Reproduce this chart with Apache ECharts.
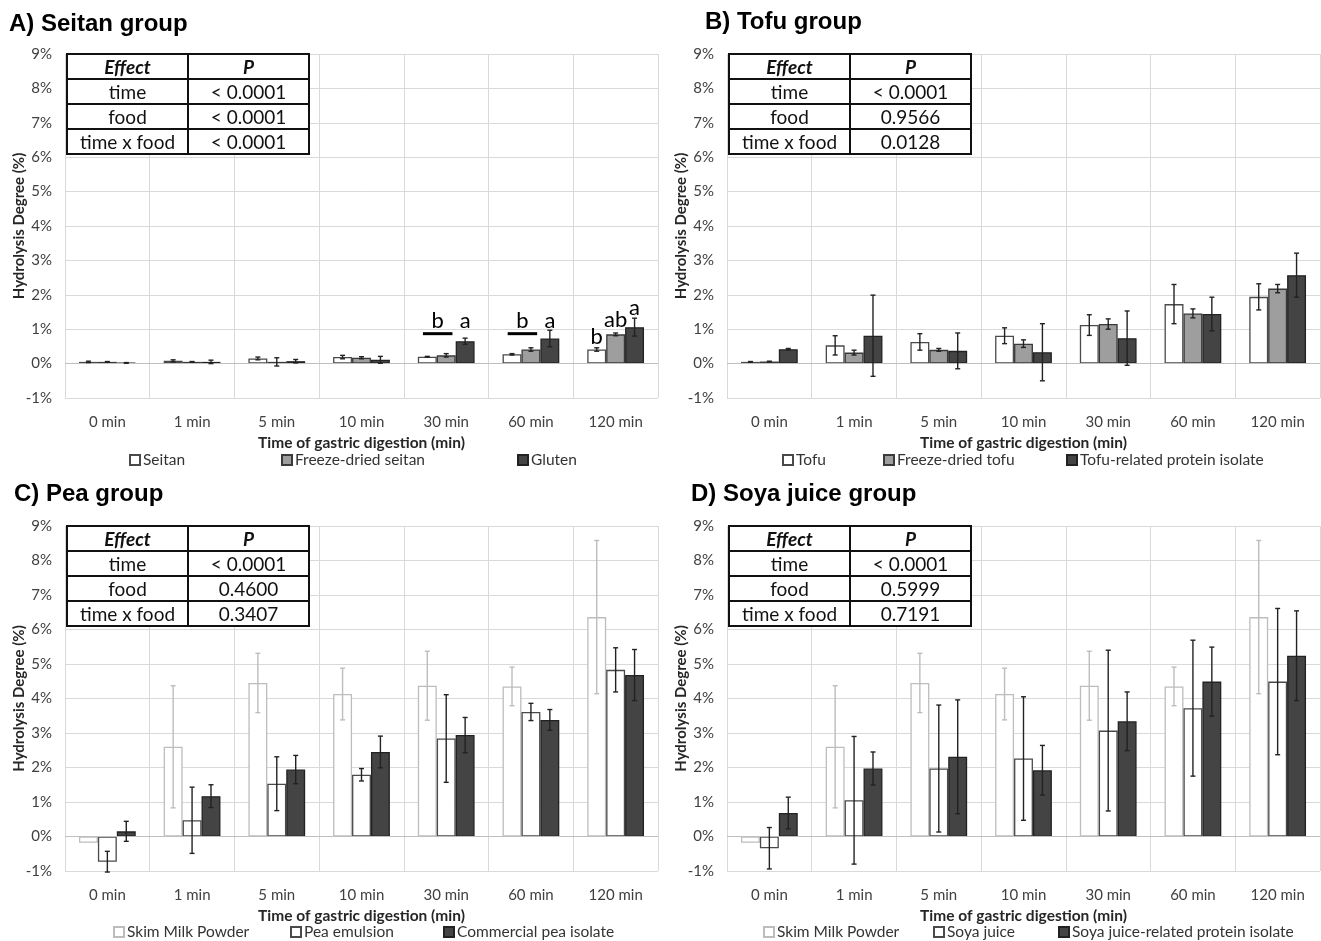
<!DOCTYPE html>
<html><head><meta charset="utf-8">
<script src="https://cdn.jsdelivr.net/npm/echarts@6/dist/echarts.min.js"></script>
<style>html,body{margin:0;padding:0;background:#fff}#c{width:1321px;height:941px}</style>
</head><body><div id="c"></div>
<script>
const categories = ['0 min','1 min','5 min','10 min','30 min','60 min','120 min'];

// A) Seitan group
const seitan = [0.05,0.08,0.15,0.19,0.20,0.27,0.41];
const seitanErr = [0.02,0.03,0.04,0.05,0.01,0.02,0.05];
const freezeDriedSeitan = [0.05,0.05,0.05,0.17,0.24,0.41,0.85];
const freezeDriedSeitanErr = [0.01,0.01,0.12,0.03,0.05,0.05,0.04];
const gluten = [0.02,0.05,0.07,0.11,0.65,0.73,1.06];
const glutenErr = [0.01,0.05,0.05,0.10,0.09,0.24,0.26];

// B) Tofu group
const tofu = [0.05,0.53,0.63,0.81,1.12,1.73,1.94];
const tofuErr = [0.01,0.28,0.24,0.23,0.30,0.57,0.38];
const freezeDriedTofu = [0.06,0.32,0.40,0.58,1.15,1.46,2.18];
const freezeDriedTofuErr = [0.01,0.07,0.04,0.11,0.15,0.13,0.12];
const tofuIsolate = [0.42,0.81,0.37,0.33,0.74,1.44,2.57];
const tofuIsolateErr = [0.02,1.18,0.52,0.83,0.79,0.49,0.64];

// C) Pea group & D) Soya juice group
const skimMilk = [-0.18,2.60,4.45,4.13,4.37,4.35,6.36];
const skimMilkErr = [0,1.77,0.86,0.75,1.00,0.56,2.22];
const peaEmulsion = [-0.73,0.47,1.53,1.79,2.84,3.61,4.83];
const peaEmulsionErr = [0.30,0.96,0.78,0.18,1.27,0.25,0.64];
const peaIsolate = [0.15,1.17,1.94,2.45,2.94,3.38,4.68];
const peaIsolateErr = [0.29,0.33,0.41,0.46,0.51,0.30,0.74];
const soyaJuice = [-0.34,1.05,1.97,2.26,3.07,3.72,4.49];
const soyaJuiceErr = [0.60,1.85,1.84,1.79,2.33,1.97,2.12];
const soyaIsolate = [0.68,1.97,2.31,1.92,3.34,4.49,5.24];
const soyaIsolateErr = [0.46,0.48,1.65,0.72,0.85,1.00,1.30];

// significance annotations for panel A: [category, bar slot, value, text]
const sigLetters = [[4,-0.45,1.25,'b'],[4,1,1.25,'a'],[5,-0.45,1.25,'b'],[5,1,1.25,'a'],[6,-1,0.79,'b'],[6,0,1.26,'ab'],[6,1,1.63,'a']];
// [category, from slot, to slot, value]
const sigBars = [[4,-1.23,0.33,0.87],[5,-1.23,0.33,0.87]];

const tableA = [['Effect','P'],['time','< 0.0001'],['food','< 0.0001'],['time x food','< 0.0001']];
const tableB = [['Effect','P'],['time','< 0.0001'],['food','0.9566'],['time x food','0.0128']];
const tableC = [['Effect','P'],['time','< 0.0001'],['food','0.4600'],['time x food','0.3407']];
const tableD = [['Effect','P'],['time','< 0.0001'],['food','0.5999'],['time x food','0.7191']];

const FONT = 'Lato';
const GAP = 0.33;
const sWhite = {fill:'#ffffff', border:'#4a4a4a', err:'#222'};
const sGrey = {fill:'#9e9e9e', border:'#3a3a3a', err:'#222'};
const sDark = {fill:'#444444', border:'#222222', err:'#222'};
const sSkim = {fill:'#ffffff', border:'#bdbdbd', err:'#bdbdbd'};

const panels = [
  {title:'A) Seitan group', tl:[9,12], grid:{left:65,top:54,width:593,height:344},
   names:['Seitan','Freeze-dried seitan','Gluten'], vals:[seitan,freezeDriedSeitan,gluten],
   errs:[seitanErr,freezeDriedSeitanErr,glutenErr], styles:[sWhite,sGrey,sDark], table:tableA,
   legend:[129,281,517], legendTop:452, sig:true},
  {title:'B) Tofu group', tl:[705,10], grid:{left:727,top:54,width:593,height:344},
   names:['Tofu','Freeze-dried tofu','Tofu-related protein isolate'], vals:[tofu,freezeDriedTofu,tofuIsolate],
   errs:[tofuErr,freezeDriedTofuErr,tofuIsolateErr], styles:[sWhite,sGrey,sDark], table:tableB,
   legend:[782,883,1066], legendTop:452},
  {title:'C) Pea group', tl:[14,482], grid:{left:65,top:526,width:593,height:345},
   names:['Skim Milk Powder','Pea emulsion','Commercial pea isolate'], vals:[skimMilk,peaEmulsion,peaIsolate],
   errs:[skimMilkErr,peaEmulsionErr,peaIsolateErr], styles:[sSkim,sWhite,sDark], table:tableC,
   legend:[113,290,443], legendTop:924},
  {title:'D) Soya juice group', tl:[691,482], grid:{left:727,top:526,width:593,height:345},
   names:['Skim Milk Powder ','Soya juice','Soya juice-related protein isolate'], vals:[skimMilk,soyaJuice,soyaIsolate],
   errs:[skimMilkErr,soyaJuiceErr,soyaIsolateErr], styles:[sSkim,sWhite,sDark], table:tableD,
   legend:[763,933,1058], legendTop:924}
];

function errRender(slot, color){
  return function(params, api){
    const cat = api.value(0), v = api.value(1), e = api.value(2);
    if (!e) return null;
    const bw = api.size([1,0])[0];
    const barW = bw*(1-GAP)/3;
    const off = (slot-1)*barW;
    const t = api.coord([cat, v+e]), b = api.coord([cat, v-e]);
    const x = t[0]+off, cap = 2.5;
    const st = {stroke: color, lineWidth: 1.4};
    return {type:'group', children:[
      {type:'line', shape:{x1:x,y1:t[1],x2:x,y2:b[1]}, style:st},
      {type:'line', shape:{x1:x-cap,y1:t[1],x2:x+cap,y2:t[1]}, style:st},
      {type:'line', shape:{x1:x-cap,y1:b[1],x2:x+cap,y2:b[1]}, style:st}
    ]};
  };
}

const option = {animation:false, backgroundColor:'#fff', title:[], grid:[], xAxis:[], yAxis:[], series:[], legend:[], graphic:[]};

panels.forEach((p, pi) => {
  option.title.push({text:p.title, left:p.tl[0], top:p.tl[1], padding:0,
    textStyle:{fontFamily:'Liberation Sans', fontWeight:'bold', fontSize:24, color:'#000'}});
  option.grid.push(p.grid);
  option.xAxis.push({type:'category', gridIndex:pi, data:categories, boundaryGap:true,
    axisLine:{show:false, onZero:false}, axisTick:{show:false},
    axisLabel:{fontFamily:FONT, fontSize:15, color:'#404040', margin:17},
    splitLine:{show:true, lineStyle:{color:'#d9d9d9', width:1}},
    name:'Time of gastric digestion (min)', nameLocation:'middle', nameGap:37,
    nameTextStyle:{fontFamily:FONT, fontWeight:'bold', fontSize:15.5, color:'#262626'}});
  option.yAxis.push({type:'value', gridIndex:pi, min:-1, max:9, interval:1,
    axisLine:{show:false}, axisTick:{show:false},
    axisLabel:{formatter:'{value}%', fontFamily:FONT, fontSize:15, color:'#404040', margin:13},
    splitLine:{lineStyle:{color:'#d9d9d9', width:1}},
    name:'Hydrolysis Degree (%)', nameLocation:'middle', nameGap:38, nameRotate:90, nameMoveOverlap:false,
    nameTextStyle:{fontFamily:FONT, fontWeight:'bold', fontSize:15, color:'#262626'}});
  p.names.forEach((nm, si) => {
    const s = p.styles[si];
    const bar = {type:'bar', name:nm, xAxisIndex:pi, yAxisIndex:pi, data:p.vals[si],
      barGap:'0%', barCategoryGap:(GAP*100)+'%',
      itemStyle:{color:s.fill, borderColor:s.border, borderWidth:1.3}};
    if (si === 0) bar.markLine = {silent:true, symbol:'none', label:{show:false},
      lineStyle:{color:'#bfbfbf', width:1, type:'solid'}, data:[{yAxis:0}]};
    option.series.push(bar);
  });
  p.names.forEach((nm, si) => {
    option.series.push({type:'custom', xAxisIndex:pi, yAxisIndex:pi, z:5, silent:true,
      renderItem: errRender(si, p.styles[si].err),
      data: p.vals[si].map((v,i) => [i, v, p.errs[si][i]]), encode:{x:0, y:1}});
    option.legend.push({data:[nm], left:p.legend[si], top:p.legendTop, padding:0, icon:'rect',
      itemWidth:10, itemHeight:10, selectedMode:false,
      textStyle:{fontFamily:FONT, fontSize:15.5, color:'#333', padding:[0,0,0,-2]}});
  });
  if (p.sig) {
    option.series.push({type:'custom', xAxisIndex:pi, yAxisIndex:pi, z:6, silent:true,
      data: sigLetters.map(d => [d[0], d[2]]), encode:{x:0,y:1},
      renderItem:(params, api) => {
        const d = sigLetters[params.dataIndex];
        const bw = api.size([1,0])[0], barW = bw*(1-GAP)/3;
        const c = api.coord([d[0], d[2]]);
        return {type:'text', style:{x:c[0]+d[1]*barW, y:c[1], text:d[3], align:'center', verticalAlign:'middle',
          font:'22px ' + FONT, fill:'#000'}};
      }});
    option.series.push({type:'custom', xAxisIndex:pi, yAxisIndex:pi, z:6, silent:true,
      data: sigBars.map(d => [d[0], d[3]]), encode:{x:0,y:1},
      renderItem:(params, api) => {
        const d = sigBars[params.dataIndex];
        const bw = api.size([1,0])[0], barW = bw*(1-GAP)/3;
        const c = api.coord([d[0], d[3]]);
        return {type:'line', shape:{x1:c[0]+d[1]*barW, y1:c[1], x2:c[0]+d[2]*barW, y2:c[1]},
          style:{stroke:'#000', lineWidth:3}};
      }});
  }
  // statistics table
  const tx = p.grid.left + 1, ty = p.grid.top - 1, cw = 121, rh = 25;
  const children = [];
  p.table.forEach((row, ri) => {
    row.forEach((cell, ci) => {
      children.push({type:'rect', z:100, shape:{x:ci*cw, y:ri*rh, width:cw, height:rh},
        style:{fill:'#fff', stroke:'#111', lineWidth:2}});
    });
  });
  p.table.forEach((row, ri) => {
    row.forEach((cell, ci) => {
      children.push({type:'text', z:101, style:{x:ci*cw+cw/2, y:ri*rh+rh/2+1, text:cell, align:'center', verticalAlign:'middle',
        font:(ri===0?'italic bold ':'') + '19px ' + FONT, fill:'#111'}});
    });
  });
  option.graphic.push({type:'group', left:tx, top:ty, z:100, children});
});

const chart = echarts.init(document.getElementById('c'), null, {renderer:'canvas'});
chart.setOption(option);
</script></body></html>
